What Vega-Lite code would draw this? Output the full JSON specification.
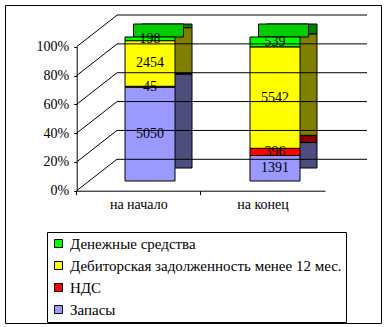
{
  "$schema": "https://vega.github.io/schema/vega-lite/v6.json",
  "width": 376,
  "height": 318,
  "autosize": "none",
  "padding": {"left": 5, "top": 5, "right": 5, "bottom": 4},
  "background": "white",
  "config": {
    "view": {"stroke": "black", "strokeWidth": 1},
    "font": "Liberation Serif",
    "text": {"font": "Liberation Serif"},
    "axis": {"labelFont": "Liberation Serif"},
    "legend": {"labelFont": "Liberation Serif"}
  },
  "data": {
    "values": [
      {"cat": "на начало", "series": "Запасы", "order": 1, "value": 5050},
      {"cat": "на начало", "series": "НДС", "order": 2, "value": 45},
      {"cat": "на начало", "series": "Дебиторская задолженность менее 12 мес.", "order": 3, "value": 2454},
      {"cat": "на начало", "series": "Денежные средства", "order": 4, "value": 198},
      {"cat": "на конец", "series": "Запасы", "order": 1, "value": 1391},
      {"cat": "на конец", "series": "НДС", "order": 2, "value": 396},
      {"cat": "на конец", "series": "Дебиторская задолженность менее 12 мес.", "order": 3, "value": 5542},
      {"cat": "на конец", "series": "Денежные средства", "order": 4, "value": 539}
    ]
  },
  "resolve": {
    "scale": {"x": "independent", "y": "independent", "color": "independent"},
    "axis": {"x": "independent", "y": "independent"},
    "legend": {"color": "independent"}
  },
  "layer": [
    {
      "mark": {"type": "bar", "opacity": 0},
      "encoding": {
        "x": {"field": "cat", "type": "nominal", "sort": ["на начало", "на конец"], "scale": {"range": [71.7, 320], "paddingInner": 0, "paddingOuter": 0},
          "axis": {"orient": "bottom", "offset": -132.3, "title": null, "labelAngle": 0, "labelFont": "Liberation Serif", "labelFontSize": 14, "labelColor": "black", "labelPadding": 3, "domainColor": "black", "tickColor": "black", "tickSize": 4, "bandPosition": 0, "grid": false}},
        "y": {"field": "value", "type": "quantitative", "stack": "normalize", "scale": {"domain": [0, 1], "range": [185.7, 41.7], "nice": false},
          "axis": {"orient": "left", "offset": -71.7, "values": [0, 0.2, 0.4, 0.6, 0.8, 1], "format": ".0%", "grid": false, "labelFont": "Liberation Serif", "labelFontSize": 14, "labelColor": "black", "domainColor": "black", "tickColor": "black", "tickSize": 3, "labelPadding": 5, "title": null}},
        "order": {"field": "order", "type": "quantitative"}
      }
    },
    {
      "data": {"values": [{"tick": 0}, {"tick": 0.2}, {"tick": 0.4}, {"tick": 0.6}, {"tick": 0.8}, {"tick": 1}]},
      "mark": {"type": "rule", "color": "black", "strokeWidth": 1, "y2Offset": -31.5},
      "encoding": {
        "x": {"datum": 0, "type": "quantitative", "scale": {"domain": [0, 1], "range": [71.7, 112], "nice": false, "zero": false}, "axis": null},
        "x2": {"datum": 1},
        "y": {"field": "tick", "type": "quantitative", "scale": {"domain": [0, 1], "range": [185.7, 41.7], "nice": false}, "axis": null},
        "y2": {"field": "tick"}
      }
    },
    {
      "mark": {"type": "bar", "stroke": "black", "strokeWidth": 1},
      "encoding": {
        "x": {"field": "cat", "type": "nominal", "sort": ["на начало", "на конец"], "scale": {"range": [137, 312], "paddingInner": 0.6, "paddingOuter": 0}, "axis": null},
        "y": {"field": "value", "type": "quantitative", "stack": "normalize", "scale": {"domain": [0, 1], "range": [163, 19], "nice": false}, "axis": null},
        "color": {"field": "series", "type": "nominal", "sort": ["Денежные средства", "Дебиторская задолженность менее 12 мес.", "НДС", "Запасы"], "scale": {"range": ["#008000", "#808000", "#800000", "#4D4D80"]}, "legend": null},
        "order": {"field": "order", "type": "quantitative"}
      }
    },
    {
      "transform": [{"filter": "datum.series == 'Денежные средства'"}],
      "mark": {"type": "bar", "stroke": "black", "strokeWidth": 1, "color": "#00CC00"},
      "encoding": {
        "x": {"field": "cat", "type": "nominal", "sort": ["на начало", "на конец"], "scale": {"range": [128.5, 303.5], "paddingInner": 0.6, "paddingOuter": 0}, "axis": null},
        "y": {"field": "value", "type": "quantitative", "stack": "normalize", "scale": {"domain": [0, 1], "range": [32, 19], "nice": false}, "axis": null}
      }
    },
    {
      "encoding": {
        "x": {"field": "cat", "type": "nominal", "sort": ["на начало", "на конец"], "scale": {"range": [120, 295], "paddingInner": 0.6, "paddingOuter": 0}, "axis": null},
        "y": {"field": "value", "type": "quantitative", "stack": "normalize", "scale": {"domain": [0, 1], "range": [176, 32], "nice": false}, "axis": null},
        "order": {"field": "order", "type": "quantitative"}
      },
      "layer": [
        {
          "mark": {"type": "bar", "stroke": "black", "strokeWidth": 1},
          "encoding": {
            "color": {"field": "series", "type": "nominal", "sort": ["Денежные средства", "Дебиторская задолженность менее 12 мес.", "НДС", "Запасы"], "scale": {"range": ["#00FF00", "#FFFF00", "#FF0000", "#9999FF"]},
              "legend": {"orient": "none", "legendX": 42, "legendY": 227, "title": null, "strokeColor": "black", "fillColor": "white", "padding": 4, "symbolType": "square", "symbolSize": 64, "symbolStrokeColor": "black", "symbolStrokeWidth": 1, "labelFont": "Liberation Serif", "labelFontSize": 15, "labelColor": "black", "labelOffset": 4, "rowPadding": 6, "labelLimit": 400, "cornerRadius": 0}}
          }
        },
        {
          "mark": {"type": "text", "font": "Liberation Serif", "fontSize": 14, "baseline": "middle", "color": "black"},
          "encoding": {
            "y": {"field": "value", "type": "quantitative", "stack": "normalize", "bandPosition": 0.5, "scale": {"domain": [0, 1], "range": [176, 32], "nice": false}, "axis": null},
            "detail": {"field": "series", "type": "nominal"},
            "text": {"field": "value", "type": "quantitative"}
          }
        }
      ]
    },
    {
      "data": {"values": [{"tick": 0}, {"tick": 0.2}, {"tick": 0.4}, {"tick": 0.6}, {"tick": 0.8}, {"tick": 1}]},
      "mark": {"type": "rule", "color": "black", "strokeWidth": 1},
      "encoding": {
        "x": {"datum": 0, "type": "quantitative", "scale": {"domain": [0, 1], "range": [112, 362], "nice": false, "zero": false}, "axis": null},
        "x2": {"datum": 1},
        "y": {"field": "tick", "type": "quantitative", "scale": {"domain": [0, 1], "range": [154.3, 10], "nice": false}, "axis": null}
      }
    }
  ]
}
